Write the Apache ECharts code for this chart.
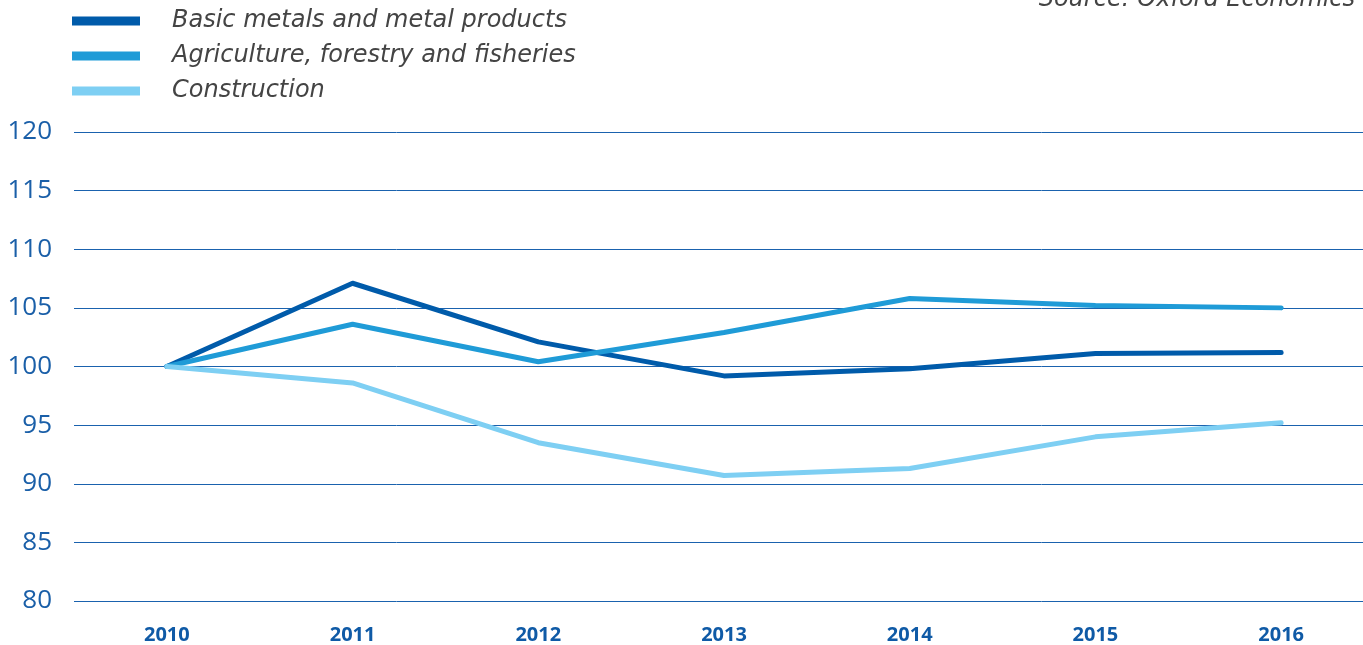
<!DOCTYPE html>
<html>
<head>
<meta charset="utf-8">
<script src="https://cdn.jsdelivr.net/npm/echarts@6/dist/echarts.min.js"></script>
<style>
  html, body { margin: 0; padding: 0; background: #fff; }
  #chart { width: 1363px; height: 645px; }
</style>
</head>
<body>
<div id="chart"></div>
<script>
const years = ['2010', '2011', '2012', '2013', '2014', '2015', '2016']
const basicMetals = [100, 107.1, 102.1, 99.2, 99.8, 101.1, 101.2]
const agriculture = [100, 103.6, 100.4, 102.9, 105.8, 105.2, 105.0]
const construction = [100, 98.6, 93.5, 90.7, 91.3, 94.0, 95.2]
const seriesNames = ['Basic metals and metal products', 'Agriculture, forestry and fisheries', 'Construction']
const colors = ['#005baa', '#1f9bd7', '#7ecff3']

const myChart = echarts.init(document.getElementById('chart'))

function line (name, data, color) {
  return {
    name: name,
    type: 'line',
    data: data,
    symbol: 'none',
    lineStyle: { width: 5, color: color, cap: 'round', join: 'round' },
    itemStyle: { color: color }
  }
}

myChart.setOption({
  animation: false,
  title: {
    text: 'Source: Oxford Economics',
    right: 3,
    top: -17,
    textStyle: { fontFamily: 'DejaVu Sans', fontStyle: 'italic', fontWeight: 'normal', fontSize: 24, color: '#444' }
  },
  legend: {
    orient: 'vertical',
    left: 67,
    top: 4,
    itemWidth: 68,
    itemHeight: 9,
    itemGap: 11,
    icon: 'rect',
    data: seriesNames,
    textStyle: { fontFamily: 'DejaVu Sans', fontStyle: 'italic', fontSize: 24, color: '#444', padding: [0, 0, 0, 27] }
  },
  grid: { left: 74, width: 1300, top: 132, bottom: 44, containLabel: false, outerBoundsMode: 'none' },
  xAxis: {
    type: 'category',
    boundaryGap: true,
    data: years,
    axisLine: { show: false },
    axisTick: { show: false },
    axisLabel: { margin: 24, fontFamily: 'Open Sans', fontWeight: 'bold', fontSize: 20, color: '#0f5aa6' }
  },
  yAxis: {
    type: 'value',
    min: 80,
    max: 120,
    interval: 5,
    axisLine: { show: false },
    axisTick: { show: false },
    splitLine: { lineStyle: { color: '#1a62ae', width: 1 } },
    axisLabel: { margin: 22, fontFamily: 'Open Sans', fontSize: 26, color: '#1a5fa8' }
  },
  series: [
    line(seriesNames[0], basicMetals, colors[0]),
    line(seriesNames[1], agriculture, colors[1]),
    line(seriesNames[2], construction, colors[2])
  ]
})
</script>
</body>
</html>
